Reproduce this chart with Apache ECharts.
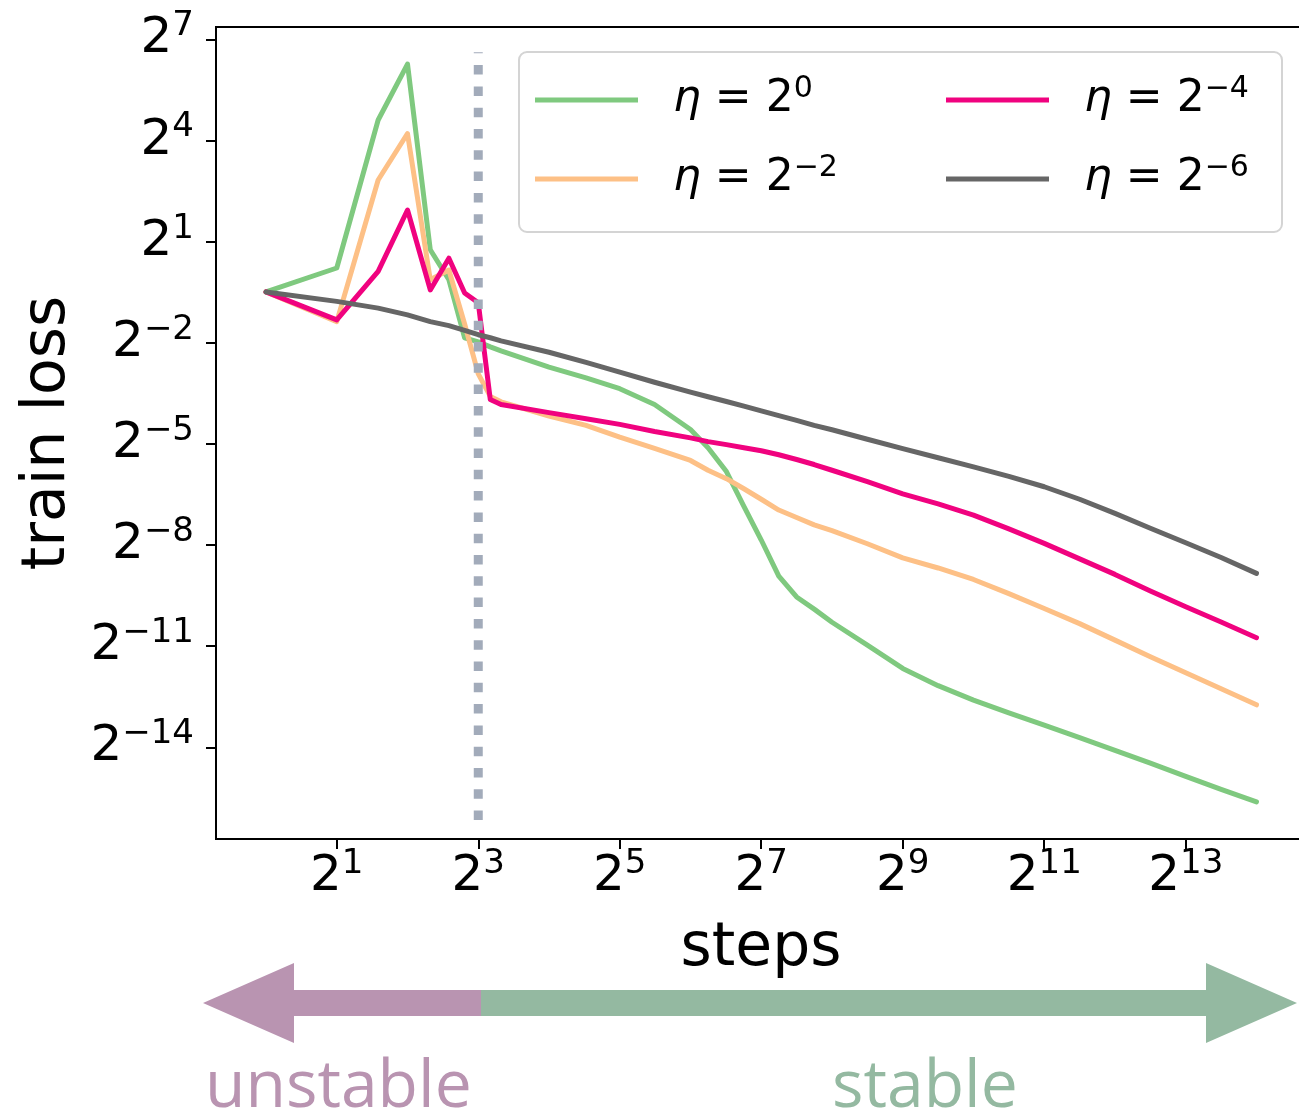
<!DOCTYPE html>
<html>
<head>
<meta charset="utf-8">
<script src="https://cdn.jsdelivr.net/npm/echarts@6/dist/echarts.min.js"></script>
<style>
  html, body { margin: 0; padding: 0; background: #fff; overflow: hidden; }
  #chart { width: 1299px; height: 1113px; }
</style>
</head>
<body>
<div id="chart"></div>
<script>
// training steps shared by every run
const steps = [1, 2, 3, 4, 5, 6, 7, 8, 9, 10, 16, 23, 32, 45, 64, 76, 91, 108, 128, 152, 181, 215, 256, 362, 512, 724, 1024, 1448, 2048, 2896, 4096, 5793, 8192, 11585, 16384];
// log2(train loss), one array per learning rate
const lossEta0  = [-0.49, 0.22, 4.61, 6.27, 0.76, -0.13, -1.85, -1.97, -2.12, -2.24, -2.72, -3.04, -3.36, -3.83, -4.57, -5.11, -5.82, -6.85, -7.85, -8.92, -9.54, -9.9, -10.29, -10.97, -11.66, -12.17, -12.6, -12.98, -13.34, -13.71, -14.09, -14.47, -14.86, -15.25, -15.62];
const lossEtaM2 = [-0.49, -1.37, 2.83, 4.21, -0.13, 0.16, -1.44, -2.92, -3.59, -3.75, -4.17, -4.45, -4.8, -5.13, -5.49, -5.78, -6.03, -6.33, -6.64, -6.96, -7.18, -7.4, -7.57, -7.96, -8.38, -8.68, -9.02, -9.44, -9.88, -10.33, -10.82, -11.31, -11.79, -12.26, -12.74];
const lossEtaM4 = [-0.49, -1.32, 0.12, 1.94, -0.43, 0.51, -0.52, -0.81, -3.68, -3.83, -4.07, -4.25, -4.42, -4.63, -4.82, -4.93, -5.02, -5.11, -5.2, -5.32, -5.46, -5.61, -5.78, -6.12, -6.48, -6.78, -7.11, -7.52, -7.95, -8.41, -8.87, -9.36, -9.83, -10.28, -10.75];
const lossEtaM6 = [-0.49, -0.77, -0.97, -1.17, -1.37, -1.49, -1.63, -1.76, -1.85, -1.94, -2.28, -2.58, -2.87, -3.17, -3.46, -3.6, -3.74, -3.88, -4.02, -4.16, -4.3, -4.45, -4.58, -4.86, -5.14, -5.41, -5.68, -5.96, -6.27, -6.64, -7.06, -7.5, -7.93, -8.37, -8.84];
const etaExps = [0, -2, -4, -6];
const lineColors = ['#7fc97f', '#fdc086', '#f0027f', '#666666'];
const xTicks = [1, 3, 5, 7, 9, 11, 13];
const yTicks = [-14, -11, -8, -5, -2, 1, 4, 7];
// dotted marker at the edge of stability
const stableStep = 8;
const stableLineSpan = [-16.16, 6.62];

const allLoss = [lossEta0, lossEtaM2, lossEtaM4, lossEtaM6];
const sup = e => String(e).replace('-', '\u2212');
const names = etaExps.map(e => 'η=2^' + e);

const myChart = echarts.init(document.getElementById('chart'));

const series = allLoss.map((arr, k) => ({
  name: names[k],
  type: 'line',
  color: lineColors[k],
  symbol: 'none',
  lineStyle: { width: 5, color: lineColors[k], cap: 'round', join: 'round' },
  data: steps.map((s, i) => [Math.log2(s), arr[i]])
}));
series.push({
  name: 'stability',
  type: 'line',
  symbol: 'none',
  silent: true,
  z: 5,
  lineStyle: { width: 9, color: '#a2abba', type: [9.5, 11.8], cap: 'butt' },
  data: stableLineSpan.map(v => [Math.log2(stableStep), v])
});

const legendRich = {
  e: { fontFamily: 'DejaVu Sans', fontStyle: 'italic', fontSize: 44, lineHeight: 52, color: '#000', padding: [0, 0, 0, 30] },
  t: { fontFamily: 'DejaVu Sans', fontSize: 44, lineHeight: 52, color: '#000' },
  s: { fontFamily: 'DejaVu Sans', fontSize: 30, lineHeight: 27, verticalAlign: 'top', color: '#000' }
};
const legendFmt = name => `{e|η}{t| = 2}{s|${sup(name.split('^')[1])}}`;
const legendBase = {
  orient: 'vertical', top: 74, padding: 0, itemGap: 31,
  icon: 'rect', itemWidth: 103, itemHeight: 5,
  formatter: legendFmt, textStyle: { rich: legendRich }
};

const tickRich = {
  b: { fontFamily: 'DejaVu Sans', fontSize: 50, lineHeight: 60, color: '#000' },
  s: { fontFamily: 'DejaVu Sans', fontSize: 34, lineHeight: 34, verticalAlign: 'top', color: '#000' }
};
const tickFmt = v => `{b|2}{s|${sup(Math.round(v))}}`;

const options = {
  animation: false,
  backgroundColor: '#fff',
  grid: {
    left: 216, top: 27, width: 1090, height: 812,
    show: true, borderColor: '#000', borderWidth: 2,
    outerBoundsMode: 'none', containLabel: false
  },
  legend: [
    Object.assign({}, legendBase, { left: 535, data: [names[0], names[1]] }),
    Object.assign({}, legendBase, { left: 946, data: [names[2], names[3]] })
  ],
  xAxis: {
    type: 'value',
    min: -0.707, max: 14.7,
    name: 'steps', nameLocation: 'middle', nameGap: 80,
    nameTextStyle: { fontFamily: 'DejaVu Sans', fontSize: 60, color: '#000' },
    axisLine: { onZero: false, lineStyle: { color: '#000', width: 2 } },
    axisTick: { show: true, length: 10, lineStyle: { color: '#000', width: 2 }, customValues: xTicks },
    axisLabel: { margin: 8, formatter: tickFmt, rich: tickRich, customValues: xTicks },
    splitLine: { show: false }
  },
  yAxis: {
    type: 'value',
    min: -16.72, max: 7.37,
    name: 'train loss', nameLocation: 'middle', nameGap: 138, nameRotate: 90,
    nameTextStyle: { fontFamily: 'DejaVu Sans', fontSize: 60, color: '#000' },
    axisLine: { show: true, onZero: false, lineStyle: { color: '#000', width: 2 } },
    axisTick: { show: true, length: 10, lineStyle: { color: '#000', width: 2 }, customValues: yTicks },
    axisLabel: { margin: 22, formatter: tickFmt, rich: tickRich, customValues: yTicks },
    splitLine: { show: false }
  },
  graphic: [
    {
      type: 'rect', z: 3,
      shape: { x: 519, y: 52, width: 763, height: 180, r: 8 },
      style: { fill: 'rgba(255,255,255,0.8)', stroke: '#d4d4d4', lineWidth: 2 }
    },
    {
      type: 'polygon',
      shape: { points: [[203, 1003], [294, 963], [294, 990], [481, 990], [481, 1016], [294, 1016], [294, 1043]] },
      style: { fill: '#b994b1' }
    },
    {
      type: 'polygon',
      shape: { points: [[481, 990], [1206, 990], [1206, 963], [1297, 1003], [1206, 1043], [1206, 1016], [481, 1016]] },
      style: { fill: '#94b9a1' }
    },
    {
      type: 'text', x: 205, y: 1088,
      style: { text: 'unstable', fill: '#b994b1', font: '66px "Open Sans"', textVerticalAlign: 'middle' }
    },
    {
      type: 'text', x: 832, y: 1088,
      style: { text: 'stable', fill: '#94b9a1', font: '66px "Open Sans"', textVerticalAlign: 'middle' }
    }
  ],
  series: series
};
myChart.setOption(options);
window.addEventListener('resize', function () {
  myChart.resize();
});
</script>
</body>
</html>
